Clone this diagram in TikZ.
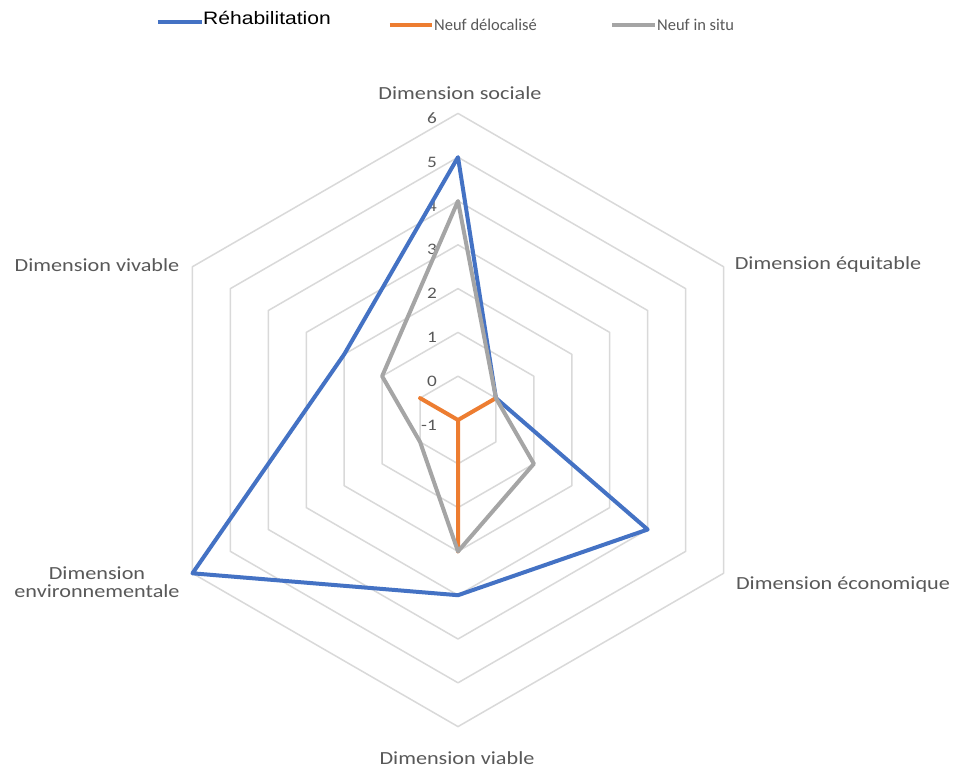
\documentclass[tikz,border=0pt]{standalone}
\usepackage{fontspec}
\setmainfont{Carlito}
\newfontfamily\arialf{Liberation Sans}
\usepackage{graphicx}
\definecolor{serblue}{HTML}{4472C4}
\definecolor{serorange}{HTML}{ED7D31}
\definecolor{sergray}{HTML}{A5A5A5}
\definecolor{gridgray}{HTML}{D9D9D9}
\definecolor{labgray}{HTML}{595959}
\newcommand{\wide}[1]{\scalebox{1.2}[1]{#1}}
\begin{document}
\begin{tikzpicture}[x=1pt,y=1pt,
  gridline/.style={draw=gridgray,line width=1.5pt,line join=round},
  series/.style={line width=4pt,line join=round,line cap=round},
  axislab/.style={text=labgray,font=\fontsize{18.5}{21}\selectfont,inner sep=0pt,align=center},
  ticklab/.style={text=labgray,font=\fontsize{16}{18}\selectfont,inner sep=0pt,anchor=east},
  legline/.style={line width=4.5pt},
  legtext/.style={text=labgray,font=\fontsize{16.5}{18}\selectfont,inner sep=0pt,anchor=west}]
\useasboundingbox (-458,-352) rectangle (500,420);
\fill[white] (-458,-352) rectangle (500,420);
\def\u{43.8}
% grid hexagons
\foreach \v in {0,...,6}{
  \pgfmathsetmacro\r{(\v+1)*\u}
  \draw[gridline] (90:\r) -- (30:\r) -- (-30:\r) -- (-90:\r) -- (210:\r) -- (150:\r) -- cycle;
}
% tick labels
\foreach \v [count=\i] in {-1,...,6}{
  \node[ticklab] (tick\i) at (-21,{(\i-1)*\u-5}) {\wide{\v}};
}
% axis labels
\node[axislab] (soc) at (2,327) {\wide{Dimension sociale}};
\node[axislab] (equ) at (370,155) {\wide{Dimension équitable}};
\node[axislab] (eco) at (385,-165) {\wide{Dimension économique}};
\node[axislab] (via) at (-1,-338) {\wide{Dimension viable}};
\node[axislab] (env) at (-361,-164) {\wide{\begin{tabular}{@{}c@{}}Dimension\\[-3pt]environnementale\end{tabular}}};
\node[axislab] (viv) at (-361,155) {\wide{Dimension vivable}};
% data points
\coordinate (b1) at (90:{6*\u});
\coordinate (b2) at (30:{1*\u});
\coordinate (b3) at (-30:{5*\u});
\coordinate (b4) at (-90:{4*\u});
\coordinate (b5) at (210:{7*\u});
\coordinate (b6) at (150:{3*\u});
\coordinate (o1) at (0,0);
\coordinate (o2) at (30:{1*\u});
\coordinate (o3) at (0,0);
\coordinate (o4) at (-90:{3*\u});
\coordinate (o5) at (0,0);
\coordinate (o6) at (150:{1*\u});
\coordinate (g1) at (90:{5*\u});
\coordinate (g2) at (30:{1*\u});
\coordinate (g3) at (-30:{2*\u});
\coordinate (g4) at (-90:{3*\u});
\coordinate (g5) at (210:{1*\u});
\coordinate (g6) at (150:{2*\u});
\draw[series,serblue] (b1) -- (b2) -- (b3) -- (b4) -- (b5) -- (b6) -- cycle;
\draw[series,serorange] (o1) -- (o2) -- (o3) -- (o4) -- (o5) -- (o6) -- cycle;
\draw[series,sergray] (g1) -- (g2) -- (g3) -- (g4) -- (g5) -- (g6) -- cycle;
% legend
\coordinate (lb1) at (-300,398);
\coordinate (lb2) at (-256,398);
\draw[legline,serblue] (lb1) -- (lb2);
\node[inner sep=0pt,anchor=west,text=black,font=\arialf\fontsize{18}{20}\selectfont] (legb) at (-255,402) {\scalebox{1.17}[1]{Réhabilitation}};
\coordinate (lo1) at (-68,395);
\coordinate (lo2) at (-26,395);
\draw[legline,serorange] (lo1) -- (lo2);
\node[legtext] (lego) at (-24,395) {Neuf délocalisé};
\coordinate (lg1) at (154,395);
\coordinate (lg2) at (197,395);
\draw[legline,sergray] (lg1) -- (lg2);
\node[legtext] (legg) at (199,395) {Neuf in situ};
\end{tikzpicture}
\end{document}
